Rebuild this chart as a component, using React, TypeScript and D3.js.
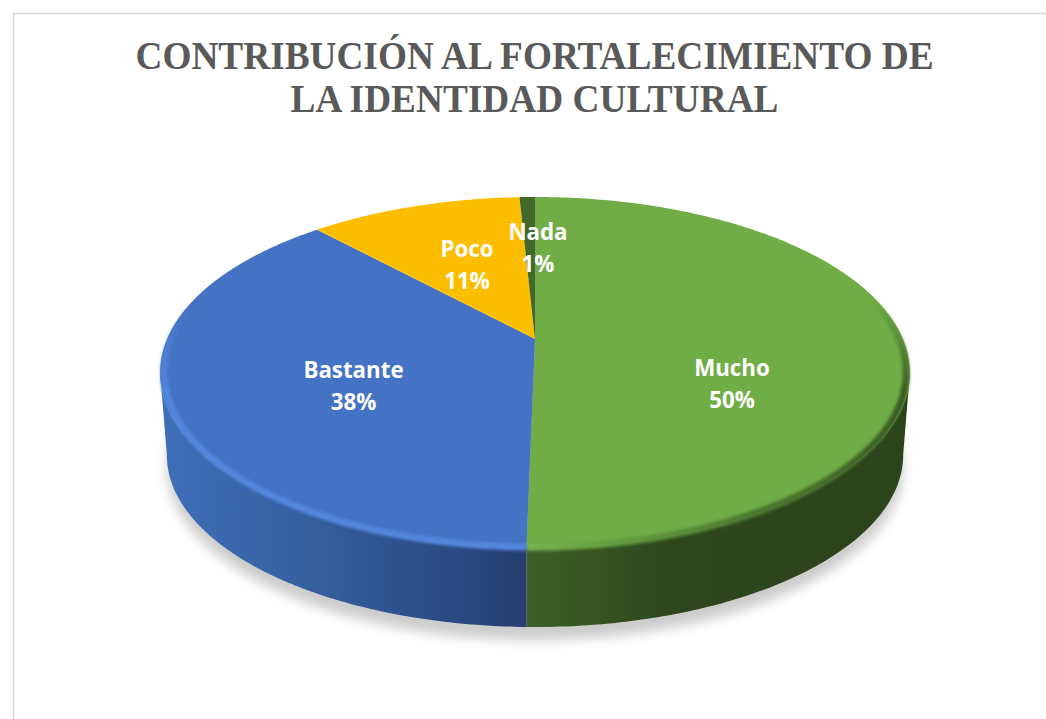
import React from "react";
import * as d3 from "d3";

const categories = ["Mucho", "Bastante", "Poco", "Nada"];
const values = [50.3, 37.9, 11, 0.8];
const percentLabels = ["50%", "38%", "11%", "1%"];
const topColors = ["#70ad47", "#4472c4", "#fdbe00", "#43682b"];
const titleLines = ["CONTRIBUCIÓN AL FORTALECIMIENTO DE", "LA IDENTIDAD CULTURAL"];
const titleWidths = [798, 488];

const W = 1046, H = 719;
const CX = 535, APEX_Y = 339, PERSP = -0.1909, AX = 368, AY = 104.4;
const ELL_CY = 372.5, BOT_CY = 455, BOT_SX = 0.982, BOT_SY = 0.98;
const labelAt: Record<string, [number, number]> = {
  Mucho: [732, 376], Bastante: [353.5, 378], Poco: [467, 257], Nada: [538, 240],
};

const topPt = (t: number): [number, number] => {
  const u = Math.sin(t), v = -Math.cos(t), w = 1 + PERSP * v;
  return [CX + (AX * u) / w, (AY * v + APEX_Y) / w];
};
const botPt = (t: number): [number, number] => {
  const [x, y] = topPt(t);
  return [CX + (x - CX) * BOT_SX, BOT_CY + (y - ELL_CY) * BOT_SY];
};
const rimPt = (t: number): [number, number] => {
  const [x, y] = topPt(t);
  return [CX + (x - CX) * 0.99, ELL_CY + (y - ELL_CY) * 0.995];
};
const line = d3.line<[number, number]>().x(d => d[0]).y(d => d[1]);
const sample = (a: number, b: number, f: (t: number) => [number, number]) => {
  const n = Math.max(2, Math.ceil(Math.abs(b - a) * 80));
  return d3.range(n + 1).map(i => f(a + ((b - a) * i) / n));
};

const pie = d3.pie<number>().sort(null)(values);
const EDGE = Math.acos(PERSP);
const wallRange = (s: { startAngle: number; endAngle: number }): [number, number] | null => {
  const a = Math.max(s.startAngle, EDGE), b = Math.min(s.endAngle, 2 * Math.PI - EDGE);
  return a < b ? [a, b] : null;
};
const wallPath = (a: number, b: number) =>
  (line([...sample(a, b, topPt), ...sample(b, a, botPt)]) as string) + "Z";
const slicePath = (a: number, b: number) =>
  (line([[CX, APEX_Y], ...sample(a, b, topPt)]) as string) + "Z";
const fullBottom = (line(sample(0, 2 * Math.PI, botPt)) as string) + "Z";
const seam = pie[0].endAngle;

export default function App() {
  return (
    <svg width={W} height={H} style={{ position: "absolute", left: 0, top: 0, background: "#fff" }}>
      <defs>
        <filter id="shadow" x="-20%" y="-20%" width="140%" height="140%">
          <feGaussianBlur stdDeviation="6" />
        </filter>
        <filter id="rimBlur" x="-10%" y="-10%" width="120%" height="120%">
          <feGaussianBlur stdDeviation="1.6" />
        </filter>
        <linearGradient id="wall1" gradientUnits="userSpaceOnUse" x1="160" x2="525" y1="0" y2="0">
          <stop offset="0" stopColor="#3f6fb9" />
          <stop offset="0.4" stopColor="#34609f" />
          <stop offset="0.65" stopColor="#2f528f" />
          <stop offset="1" stopColor="#243f70" />
        </linearGradient>
        <linearGradient id="wall0" gradientUnits="userSpaceOnUse" x1="525" x2="910" y1="0" y2="0">
          <stop offset="0" stopColor="#3f6027" />
          <stop offset="0.38" stopColor="#2d461b" />
          <stop offset="1" stopColor="#2c441a" />
        </linearGradient>
        <linearGradient id="rim0" gradientUnits="userSpaceOnUse" x1="525" x2="910" y1="0" y2="0">
          <stop offset="0" stopColor="#79b552" />
          <stop offset="0.2" stopColor="#669f40" />
          <stop offset="0.6" stopColor="#4b7830" />
          <stop offset="1" stopColor="#3a5c24" />
        </linearGradient>
        <linearGradient id="fadeGrad" gradientUnits="userSpaceOnUse" x1="0" x2="0" y1="300" y2="390">
          <stop offset="0" stopColor="#000" />
          <stop offset="1" stopColor="#fff" />
        </linearGradient>
        <mask id="fade" maskUnits="userSpaceOnUse" x="0" y="0" width={W} height={H}>
          <rect width={W} height={H} fill="url(#fadeGrad)" />
        </mask>
      </defs>

      <path d={`M13.5 ${H}V13.5H${W}`} fill="none" stroke="#d9d9d9" strokeWidth={1.5} />

      {titleLines.map((t, i) => (
        <text key={t} x={534.5} y={69 + i * 43} textAnchor="middle" fontFamily="'Liberation Serif'"
          fontWeight="700" fontSize={39.5} fill="#595959" textLength={titleWidths[i]}
          lengthAdjust="spacingAndGlyphs">{t}</text>
      ))}

      <path d={fullBottom} transform="translate(0 13)" fill="#000" opacity={0.2} filter="url(#shadow)" />

      {pie.map((s, i) => {
        const r = wallRange(s);
        return r ? <path key={i} d={wallPath(r[0], r[1])} fill={`url(#wall${i})`} /> : null;
      })}

      {pie.map((s, i) => (
        <path key={i} d={slicePath(s.startAngle, s.endAngle)} fill={topColors[i]} />
      ))}

      {/* bevel on the rim of the top face */}
      <g mask="url(#fade)">
        <path d={line(sample(1.3, seam, rimPt)) as string} fill="none" stroke="url(#rim0)" strokeWidth={7}
          filter="url(#rimBlur)" />
        <path d={line(sample(seam, 2 * Math.PI - 1.3, rimPt)) as string} fill="none" stroke="#5286dc" strokeWidth={7}
          filter="url(#rimBlur)" />
      </g>

      {pie.map((s, i) => {
        const c = categories[i];
        const [x, y] = labelAt[c];
        return (
          <text key={c} textAnchor="middle" fontFamily="'Open Sans'" fontWeight="700" fontSize={22.3} fill="#fff">
            <tspan x={x} y={y}>{c}</tspan>
            <tspan x={x} y={y + 32}>{percentLabels[i]}</tspan>
          </text>
        );
      })}
    </svg>
  );
}
